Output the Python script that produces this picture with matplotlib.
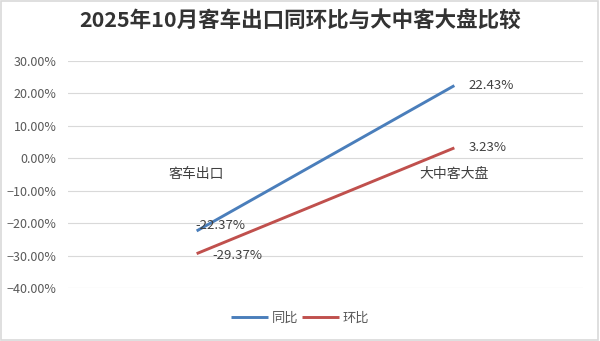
import matplotlib.pyplot as plt
from matplotlib.ticker import PercentFormatter

plt.rcParams['font.family'] = ['Noto Sans CJK SC', 'DejaVu Sans']

categories = ['客车出口', '大中客大盘']
yoy = [-22.37, 22.43]   # 同比
mom = [-29.37, 3.23]    # 环比
series_names = ['同比', '环比']
yticks = [30, 20, 10, 0, -10, -20, -30, -40]

blue = '#4a7ebb'
red = '#c0504d'
txt = '#404040'

fig = plt.figure(figsize=(6, 3.41), dpi=100)
fig.patches.append(plt.Rectangle((0.002, 0.003), 0.995, 0.994, transform=fig.transFigure,
                                 fill=False, edgecolor='#d9d9d9', linewidth=1.2))
ax = fig.add_axes([0.113, 0.155, 0.859, 0.666])

x = range(len(categories))
ax.plot(x, yoy, color=blue, lw=2.1, label=series_names[0], solid_capstyle='butt')
ax.plot(x, mom, color=red, lw=2.1, label=series_names[1], solid_capstyle='butt')

# data labels
lab = dict(ha='left', va='center', fontsize=9.5, color=txt, textcoords='offset points')
ax.annotate(f'{yoy[0]:.2f}%', (0, yoy[0]), xytext=(-1, 4), **lab)
ax.annotate(f'{mom[0]:.2f}%', (0, mom[0]), xytext=(11, -1), **lab)
ax.annotate(f'{yoy[1]:.2f}%', (1, yoy[1]), xytext=(10, 0), **lab)
ax.annotate(f'{mom[1]:.2f}%', (1, mom[1]), xytext=(10, 0), **lab)

ax.set_xlim(-0.5, 1.5)
ax.set_ylim(-40, 30)
ax.set_yticks(yticks)
ax.yaxis.set_major_formatter(PercentFormatter(decimals=2))
ax.grid(axis='y', color='#d9d9d9', lw=0.8)
ax.set_axisbelow(True)
for s in ['top', 'right', 'left']:
    ax.spines[s].set_visible(False)
ax.spines['bottom'].set_position(('data', 0))
ax.spines['bottom'].set_visible(False)
ax.set_xticks(list(x))
ax.set_xticklabels(categories, fontsize=10, color=txt)
ax.tick_params(axis='x', length=0, pad=6)
ax.tick_params(axis='y', length=0, labelsize=9, colors='#595959', pad=8)

fig.suptitle('2025年10月客车出口同环比与大中客大盘比较', x=0.5, y=0.97,
             fontsize=15.5, fontweight='bold', color='#333333')

fig.legend(loc='center', bbox_to_anchor=(0.5, 0.067), ncol=2, frameon=False,
           fontsize=9.5, handlelength=2.8, columnspacing=0.3, handletextpad=0.3,
           labelcolor='#595959')

fig.savefig('out.png', dpi=100)
